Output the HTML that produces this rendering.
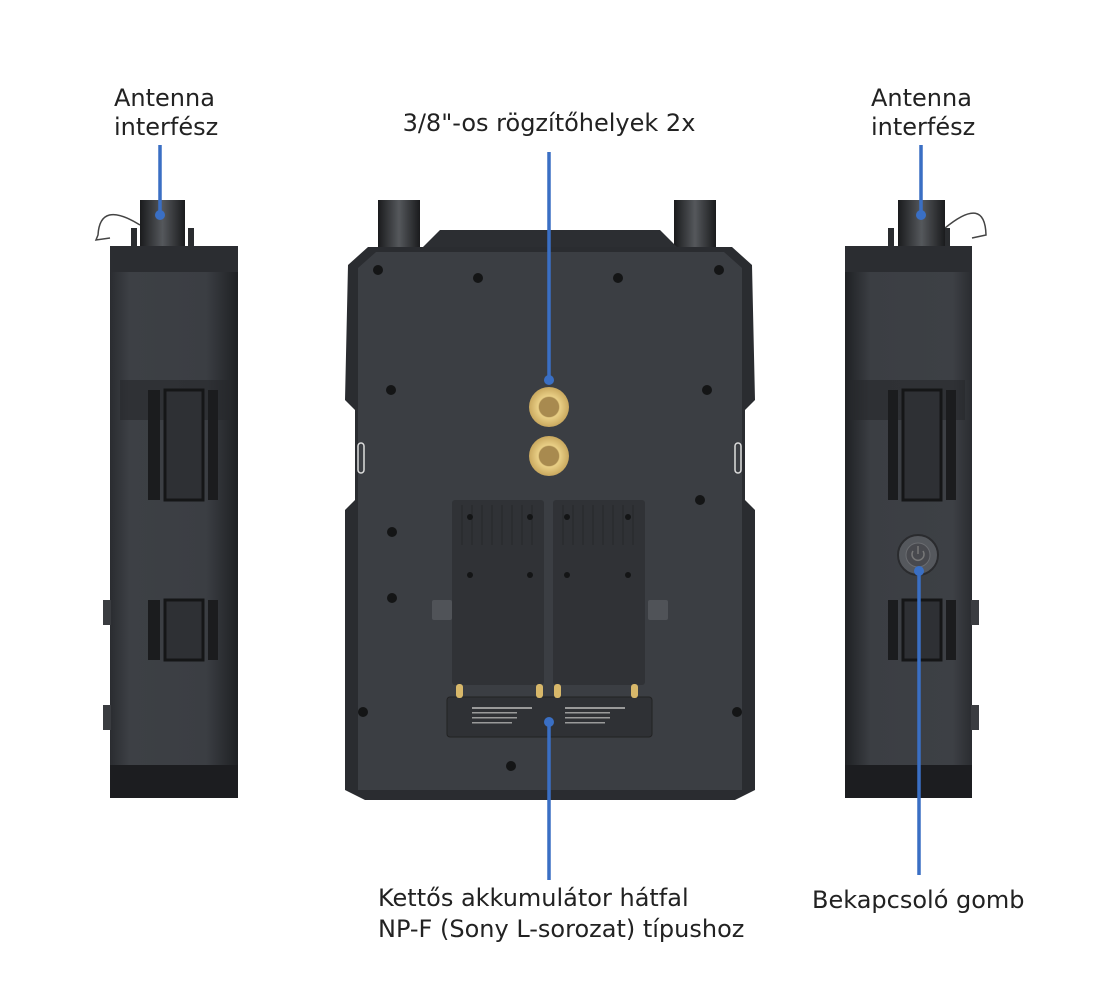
<!DOCTYPE html>
<html><head><meta charset="utf-8"><style>
html,body{margin:0;padding:0;background:#fff;}
svg{display:block;}
text{font-family:"DejaVu Sans","Liberation Sans",sans-serif;font-size:24px;fill:#222;}
</style></head><body>
<svg width="1100" height="1000" viewBox="0 0 1100 1000" xmlns="http://www.w3.org/2000/svg">
<defs>
<linearGradient id="side" x1="0" x2="1" y1="0" y2="0">
<stop offset="0" stop-color="#2a2c30"/><stop offset="0.15" stop-color="#3d4045"/><stop offset="0.75" stop-color="#3b3e43"/><stop offset="1" stop-color="#1f2124"/>
</linearGradient>
<linearGradient id="side2" x1="0" x2="1" y1="0" y2="0">
<stop offset="0" stop-color="#1f2124"/><stop offset="0.2" stop-color="#3b3e43"/><stop offset="0.85" stop-color="#3d4045"/><stop offset="1" stop-color="#2a2c30"/>
</linearGradient>
<linearGradient id="ant" x1="0" x2="1"><stop offset="0" stop-color="#1a1b1d"/><stop offset="0.5" stop-color="#55585c"/><stop offset="1" stop-color="#1a1b1d"/></linearGradient>
<radialGradient id="brass"><stop offset="0.45" stop-color="#a98a4c"/><stop offset="0.55" stop-color="#e9cf86"/><stop offset="1" stop-color="#c9a85e"/></radialGradient>
</defs>

<!-- LEFT DEVICE -->
<path d="M140 225 Q100 200 98 235 L96 240 L110 238" fill="none" stroke="#444" stroke-width="1.5"/>
<rect x="131" y="228" width="6" height="20" fill="#2a2c2f"/>
<rect x="188" y="228" width="6" height="20" fill="#2a2c2f"/>
<rect x="140" y="200" width="45" height="48" fill="url(#ant)"/>
<rect x="110" y="246" width="128" height="552" rx="6" fill="url(#side)"/>
<rect x="110" y="246" width="128" height="26" fill="#2b2d31"/>
<rect x="110" y="765" width="128" height="33" fill="#1c1d20"/>
<rect x="120" y="380" width="110" height="40" fill="#26282b" opacity="0.6"/>
<rect x="148" y="390" width="12" height="110" fill="#1b1c1e"/>
<rect x="165" y="390" width="38" height="110" fill="#2e3034" stroke="#151617" stroke-width="3"/>
<rect x="208" y="390" width="10" height="110" fill="#1b1c1e"/>
<rect x="148" y="600" width="12" height="60" fill="#1b1c1e"/>
<rect x="165" y="600" width="38" height="60" fill="#2e3034" stroke="#151617" stroke-width="3"/>
<rect x="208" y="600" width="10" height="60" fill="#1b1c1e"/>
<rect x="103" y="600" width="8" height="25" fill="#3a3c40"/>
<rect x="103" y="705" width="8" height="25" fill="#3a3c40"/>

<!-- CENTER DEVICE -->
<rect x="378" y="200" width="42" height="52" fill="url(#ant)"/>
<rect x="674" y="200" width="42" height="52" fill="url(#ant)"/>
<path d="M440 230 L660 230 L680 250 L420 250 Z" fill="#2c2e32"/>
<path d="M368 247 L732 247 L752 265 L755 400 L745 410 L745 500 L755 510 L755 790 L735 800 L365 800 L345 790 L345 510 L355 500 L355 410 L345 400 L348 265 Z" fill="#2a2c30"/>
<path d="M376 252 L724 252 L742 268 L742 790 L358 790 L358 268 Z" fill="#3b3e43"/>
<rect x="452" y="500" width="92" height="185" rx="3" fill="#303236"/>
<rect x="553" y="500" width="92" height="185" rx="3" fill="#303236"/>
<g stroke="#26282b" stroke-width="1">
<line x1="462" y1="505" x2="462" y2="545"/><line x1="472" y1="505" x2="472" y2="545"/><line x1="482" y1="505" x2="482" y2="545"/><line x1="492" y1="505" x2="492" y2="545"/><line x1="502" y1="505" x2="502" y2="545"/><line x1="512" y1="505" x2="512" y2="545"/><line x1="522" y1="505" x2="522" y2="545"/><line x1="532" y1="505" x2="532" y2="545"/>
<line x1="563" y1="505" x2="563" y2="545"/><line x1="573" y1="505" x2="573" y2="545"/><line x1="583" y1="505" x2="583" y2="545"/><line x1="593" y1="505" x2="593" y2="545"/><line x1="603" y1="505" x2="603" y2="545"/><line x1="613" y1="505" x2="613" y2="545"/><line x1="623" y1="505" x2="623" y2="545"/><line x1="633" y1="505" x2="633" y2="545"/>
</g>
<rect x="447" y="697" width="205" height="40" rx="3" fill="#2f3135" stroke="#222" />
<g fill="#9a9a9a"><rect x="472" y="707" width="60" height="2"/><rect x="472" y="712" width="45" height="1.5"/><rect x="472" y="717" width="45" height="1.5"/><rect x="472" y="722" width="40" height="1.5"/>
<rect x="565" y="707" width="60" height="2"/><rect x="565" y="712" width="45" height="1.5"/><rect x="565" y="717" width="45" height="1.5"/><rect x="565" y="722" width="40" height="1.5"/></g>
<g fill="#d8b86a"><rect x="456" y="684" width="7" height="14" rx="3"/><rect x="536" y="684" width="7" height="14" rx="3"/><rect x="554" y="684" width="7" height="14" rx="3"/><rect x="631" y="684" width="7" height="14" rx="3"/></g>
<rect x="432" y="600" width="20" height="20" rx="2" fill="#505358"/>
<rect x="648" y="600" width="20" height="20" rx="2" fill="#505358"/>
<g fill="#141516">
<circle cx="378" cy="270" r="5"/><circle cx="478" cy="278" r="5"/><circle cx="618" cy="278" r="5"/><circle cx="719" cy="270" r="5"/>
<circle cx="391" cy="390" r="5"/><circle cx="707" cy="390" r="5"/><circle cx="392" cy="532" r="5"/><circle cx="700" cy="500" r="5"/>
<circle cx="392" cy="598" r="5"/><circle cx="363" cy="712" r="5"/><circle cx="737" cy="712" r="5"/><circle cx="511" cy="766" r="5"/>
<circle cx="470" cy="517" r="3"/><circle cx="530" cy="517" r="3"/><circle cx="567" cy="517" r="3"/><circle cx="628" cy="517" r="3"/>
<circle cx="470" cy="575" r="3"/><circle cx="530" cy="575" r="3"/><circle cx="567" cy="575" r="3"/><circle cx="628" cy="575" r="3"/>
</g>
<rect x="358" y="443" width="6" height="30" rx="3" fill="none" stroke="#ddd" stroke-width="1.5"/>
<rect x="735" y="443" width="6" height="30" rx="3" fill="none" stroke="#ddd" stroke-width="1.5"/>
<circle cx="549" cy="407" r="20" fill="url(#brass)"/>
<circle cx="549" cy="407" r="10" fill="#a88a4f"/>
<circle cx="549" cy="456" r="20" fill="url(#brass)"/>
<circle cx="549" cy="456" r="10" fill="#a88a4f"/>

<!-- RIGHT DEVICE -->
<path d="M945 228 Q985 195 986 235 L972 238" fill="none" stroke="#444" stroke-width="1.5"/>
<rect x="888" y="228" width="6" height="20" fill="#2a2c2f"/>
<rect x="944" y="228" width="6" height="20" fill="#2a2c2f"/>
<rect x="898" y="200" width="47" height="48" fill="url(#ant)"/>
<rect x="845" y="246" width="127" height="552" rx="6" fill="url(#side2)"/>
<rect x="845" y="246" width="127" height="26" fill="#2b2d31"/>
<rect x="845" y="765" width="127" height="33" fill="#1c1d20"/>
<rect x="850" y="380" width="115" height="40" fill="#26282b" opacity="0.6"/>
<rect x="888" y="390" width="10" height="110" fill="#1b1c1e"/>
<rect x="903" y="390" width="38" height="110" fill="#2e3034" stroke="#151617" stroke-width="3"/>
<rect x="946" y="390" width="10" height="110" fill="#1b1c1e"/>
<rect x="888" y="600" width="10" height="60" fill="#1b1c1e"/>
<rect x="903" y="600" width="38" height="60" fill="#2e3034" stroke="#151617" stroke-width="3"/>
<rect x="946" y="600" width="10" height="60" fill="#1b1c1e"/>
<rect x="971" y="600" width="8" height="25" fill="#3a3c40"/>
<rect x="971" y="705" width="8" height="25" fill="#3a3c40"/>
<circle cx="918" cy="555" r="20" fill="#55585d" stroke="#2a2b2e" stroke-width="2"/>
<circle cx="918" cy="555" r="12" fill="#48494e" stroke="#6a6c70" stroke-width="1"/>
<path d="M913 551 A6 6 0 1 0 923 551" fill="none" stroke="#777" stroke-width="1.5"/>
<line x1="918" y1="546" x2="918" y2="554" stroke="#777" stroke-width="1.5"/>

<!-- CONNECTORS -->
<g stroke="#3a6fc4" stroke-width="3.5" fill="#3a6fc4">
<line x1="160" y1="145" x2="160" y2="215"/><circle cx="160" cy="215" r="5" stroke="none"/>
<line x1="921" y1="145" x2="921" y2="215"/><circle cx="921" cy="215" r="5" stroke="none"/>
<line x1="549" y1="152" x2="549" y2="380"/><circle cx="549" cy="380" r="5" stroke="none"/>
<line x1="549" y1="722" x2="549" y2="880"/><circle cx="549" cy="722" r="5" stroke="none"/>
<line x1="919" y1="571" x2="919" y2="875"/><circle cx="919" cy="571" r="5" stroke="none"/>
</g>

<!-- LABELS -->
<text x="114" y="106">Antenna</text>
<text x="114" y="135">interfész</text>
<text x="871" y="106">Antenna</text>
<text x="871" y="135">interfész</text>
<text x="549" y="131" text-anchor="middle">3/8"-os rögzítőhelyek 2x</text>
<text x="378" y="906">Kettős akkumulátor hátfal</text>
<text x="378" y="937">NP-F (Sony L-sorozat) típushoz</text>
<text x="812" y="908">Bekapcsoló gomb</text>
</svg>
</body></html>
